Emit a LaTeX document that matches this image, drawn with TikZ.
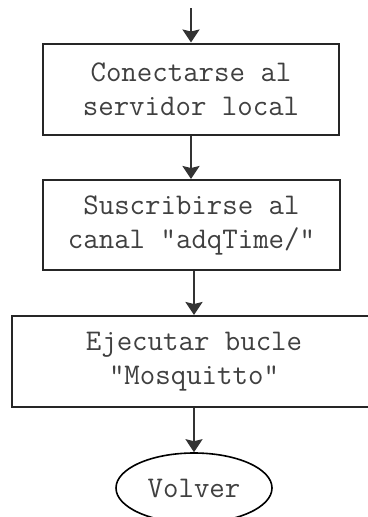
\documentclass[tikz,border=0pt]{standalone}
\usepackage{fontspec}
\usetikzlibrary{arrows.meta,shapes.geometric}
\begin{document}
\begin{tikzpicture}[x=1pt,y=-1pt,
  lbl/.style={font=\ttfamily\fontsize{30}{34}\selectfont,text=black!75,align=center,inner sep=0pt},
  procbox/.style={lbl,draw=black!85,line width=2pt,minimum height=91pt},
  termnode/.style={lbl,ellipse,draw=black,line width=1.6pt,minimum width=156pt,minimum height=70pt},
  flow/.style={draw=black!80,line width=2pt,-{Stealth[length=13pt,width=17pt,inset=2pt]}}
]
\useasboundingbox (0,0) rectangle (367,517);
\fill[white] (0,0) rectangle (367,517);
\coordinate (start) at (191,8);
\node[procbox,minimum width=296pt] (b1) at (191,89) {Conectarse al\\servidor local};
\node[procbox,minimum width=297pt,minimum height=90pt] (b2) at (191.5,225) {Suscribirse al\\canal "adqTime/"};
\node[procbox,minimum width=364pt] (b3) at (194,361.5) {Ejecutar bucle\\"Mosquitto"};
\node[termnode] (e) at (194,488) {Volver};
\draw[flow] (start) -- (b1.north);
\draw[flow] (b1.south) -- (b1.south |- b2.north);
\draw[flow] (b3.north |- b2.south) -- (b3.north);
\draw[flow] (b3.south) -- (e.north);
\end{tikzpicture}
\end{document}
